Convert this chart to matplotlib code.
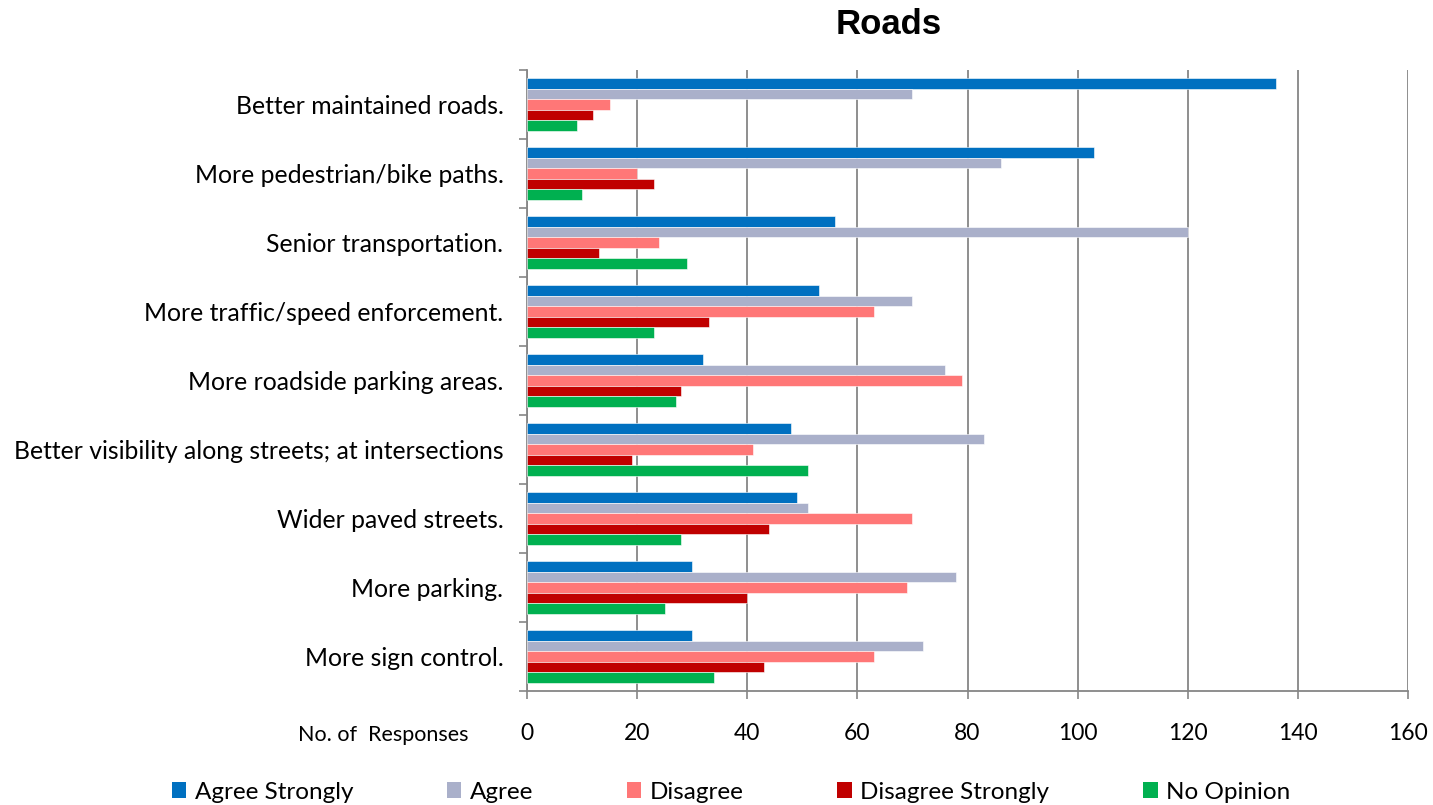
import numpy as np
import matplotlib.pyplot as plt
from matplotlib.patches import Patch

plt.rcParams['font.family'] = ['Lato', 'DejaVu Sans']

categories = ['Better maintained roads.', 'More pedestrian/bike paths.',
              'Senior transportation.', 'More traffic/speed enforcement.',
              'More roadside parking areas.',
              'Better visibility along streets; at intersections',
              'Wider paved streets.', 'More parking.', 'More sign control.']
series = ['Agree Strongly', 'Agree', 'Disagree', 'Disagree Strongly', 'No Opinion']
agree_strongly = [136, 103, 56, 53, 32, 48, 49, 30, 30]
agree = [70, 86, 120, 70, 76, 83, 51, 78, 72]
disagree = [15, 20, 24, 63, 79, 41, 70, 69, 63]
disagree_strongly = [12, 23, 13, 33, 28, 19, 44, 40, 43]
no_opinion = [9, 10, 29, 23, 27, 51, 28, 25, 34]
x_ticks = [0, 20, 40, 60, 80, 100, 120, 140, 160]

colors = ['#0070C0', '#AAB0CA', '#FF7777', '#C00000', '#00B050']
values = [agree_strongly, agree, disagree, disagree_strongly, no_opinion]

fig = plt.figure(figsize=(14.33, 8.05), dpi=100)
ax = fig.add_axes([527 / 1433, 1 - 691 / 805, (1408 - 527) / 1433, (691 - 70) / 805])

y = np.arange(len(categories))
h = 0.153
for j, (vals, c) in enumerate(zip(values, colors)):
    ax.barh(y + (j - 2) * h, vals, height=h, color=c, edgecolor='white',
            linewidth=0.4, zorder=3, label=series[j])

ax.set_xlim(0, 160)
ax.set_ylim(len(categories) - 0.5, -0.5)
ax.set_xticks(x_ticks)
ax.set_xticklabels([str(t) for t in x_ticks], fontsize=16.5)
ax.set_yticks(y)
ax.set_yticklabels(categories, fontsize=17.8)
ax.set_yticks(np.arange(len(categories) + 1) - 0.5, minor=True)
ax.tick_params(axis='y', which='major', length=0, pad=17)
ax.tick_params(axis='y', which='minor', length=6, color='#868686', width=1.2)
ax.tick_params(axis='x', length=6, color='#868686', width=1.2, pad=17)

ax.grid(axis='x', color='#868686', linewidth=1.3, zorder=0)
ax.set_axisbelow(True)
for s in ['top', 'right']:
    ax.spines[s].set_visible(False)
for s in ['left', 'bottom']:
    ax.spines[s].set_color('#868686')
    ax.spines[s].set_linewidth(1.3)

fig.text(889 / 1433, 1 - 25 / 805, 'Roads', ha='center', va='center',
         fontsize=25, fontweight='bold', family='Liberation Sans')
fig.text(468 / 1433, 1 - 735 / 805, 'No. of  Responses', ha='right',
         va='center', fontsize=15.5)

handles = [Patch(facecolor=c, edgecolor='none') for c in colors]
fig.legend(handles, series, loc='center', ncol=5,
           bbox_to_anchor=(731 / 1433, 1 - 792 / 805), frameon=False,
           fontsize=17.5, handlelength=0.6, handleheight=0.6,
           handletextpad=0.35, columnspacing=3.85)

fig.savefig('out.png', dpi=100)
